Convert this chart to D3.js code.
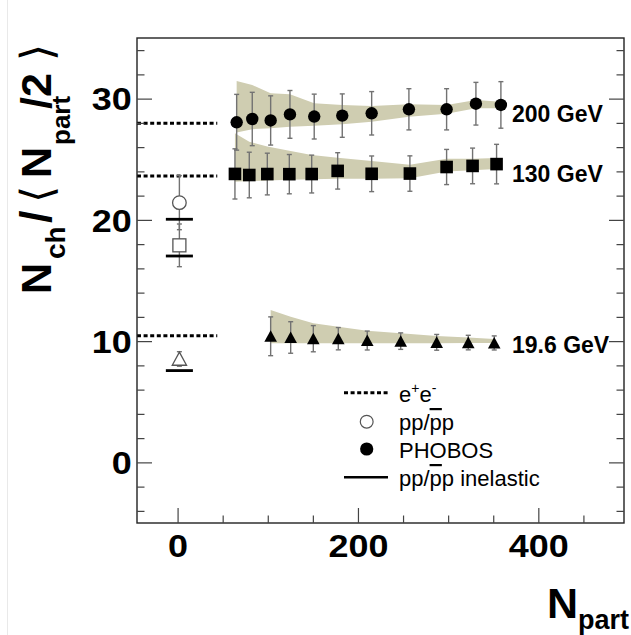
<!DOCTYPE html>
<html>
<head>
<meta charset="utf-8">
<script src="https://cdn.jsdelivr.net/npm/d3@7"></script>
<style>
  body { margin: 0; background: #fff; }
  text { font-family: "Liberation Sans", Arial, Helvetica, sans-serif; }
</style>
</head>
<body>
<svg id="chart" width="631" height="635"></svg>
<script>
// PHOBOS charged multiplicity per participant pair vs. Npart

// 200 GeV (filled circles)
const npart200 = [65.5, 82.8, 103.2, 124.6, 151.5, 182.6, 215.2, 256.5, 298.3, 330.8, 358.5];
const val200   = [28.05, 28.32, 28.2, 28.7, 28.52, 28.6, 28.79, 29.12, 29.12, 29.58, 29.48];
const err200   = [2.3, 2.2, 2.03, 1.97, 1.85, 1.79, 1.79, 1.7, 1.7, 1.76, 1.92];
const sysHi200 = [31.46, 31.13, 30.44, 30.36, 29.62, 29.48, 29.4, 29.53, 29.48, 29.89, 29.75];
const sysLo200 = [27.2, 27.48, 27.56, 27.69, 27.77, 27.88, 28.1, 28.5, 28.75, 29.2, 29.2];

// 130 GeV (filled squares)
const npart130 = [63.6, 79.5, 99.5, 123.9, 148.7, 177.5, 215.2, 257.6, 298.3, 327.1, 353.7];
const val130   = [23.79, 23.7, 23.78, 23.77, 23.78, 24.04, 23.8, 23.82, 24.36, 24.45, 24.6];
const err130   = [2.07, 1.88, 1.72, 1.62, 1.56, 1.5, 1.47, 1.46, 1.45, 1.47, 1.63];
const sysHi130 = [27.15, 26.45, 26.05, 25.7, 25.36, 25.13, 24.86, 24.55, 25.05, 25.05, 25.1];
const sysLo130 = [23.15, 23.2, 23.25, 23.3, 23.35, 23.4, 23.4, 23.43, 23.98, 24.1, 24.2];

// 19.6 GeV (filled triangles)
const npart19 = [103.2, 125.4, 150.5, 178.2, 210.3, 247.4, 287.3, 322.3, 351.1];
const val19   = [10.4, 10.3, 10.2, 10.2, 10.05, 10.0, 9.9, 9.88, 9.85];
const err19   = [1.6, 1.3, 1.08, 0.92, 0.78, 0.68, 0.65, 0.6, 0.58];
const sysHi19 = [12.57, 12.02, 11.47, 11.19, 10.86, 10.65, 10.42, 10.29, 10.18];
const sysLo19 = [9.82, 9.82, 9.82, 9.82, 9.82, 9.82, 9.82, 9.84, 9.85];

// e+e- reference levels (dotted), drawn over the Npart range below
const eeLevels = [27.97, 23.62, 10.45];
const eeRange = [-45, 44];

// pp / p-pbar at Npart = 2 (open markers) and inelastic pp values (thick bars)
const ppNpart = 2;
const ppVals  = [21.42, 17.9, 8.53];
const ppErr   = [2.23, 1.76, 0.6];
const ppShape = ["circle", "square", "triangle"];
const inelVals = [20.05, 17.02, 7.57];
const inelHalfWidth = 15;

// axes
const xDomain = [-45, 495];
const yDomain = [-5, 35];
const xMajor = [0, 200, 400];
const xMinor = [50, 100, 150, 250, 300, 350, 450];
const yMajor = [0, 10, 20, 30];
const yMinor = [-4, -2, 2, 4, 6, 8, 12, 14, 16, 18, 22, 24, 26, 28, 32, 34];

// energy labels, placed at the level they sit beside
const seriesLabels = [
  { text: "200 GeV", y: 28.8 },
  { text: "130 GeV", y: 23.85 },
  { text: "19.6 GeV", y: 9.7 }
];

const svg = d3.select("#chart");
const L = 137, R = 624, T = 38, B = 523;
const x = d3.scaleLinear().domain(xDomain).range([L, R]);
const y = d3.scaleLinear().domain(yDomain).range([B, T]);

// faint page edge line
svg.append("line").attr("x1", 7.5).attr("x2", 7.5).attr("y1", 0).attr("y2", 635)
  .attr("stroke", "#e9e9e9").attr("stroke-width", 1);

const bandColor = "#cfcdb1";
const errColor = "#727272";

function zip(n, v, e, hi, lo) {
  return n.map((d, i) => ({ n: d, v: v[i], e: e[i], hi: hi[i], lo: lo[i] }));
}
const s200 = zip(npart200, val200, err200, sysHi200, sysLo200);
const s130 = zip(npart130, val130, err130, sysHi130, sysLo130);
const s19  = zip(npart19, val19, err19, sysHi19, sysLo19);

// systematic bands
const area = d3.area().x(d => x(d.n)).y0(d => y(d.lo)).y1(d => y(d.hi));
[s200, s130, s19].forEach(s => {
  svg.append("path").attr("d", area(s)).attr("fill", bandColor);
});

// e+e- dotted lines
eeLevels.forEach(v => {
  svg.append("line")
    .attr("x1", x(eeRange[0])).attr("x2", x(eeRange[1]))
    .attr("y1", y(v)).attr("y2", y(v))
    .attr("stroke", "#000").attr("stroke-width", 3)
    .attr("stroke-dasharray", "4,2.6");
});

// error bars with small caps
function errorBars(data) {
  const g = svg.append("g").attr("stroke", errColor).attr("stroke-width", 1.4);
  data.forEach(d => {
    const cx = x(d.n), y1 = y(d.v + d.e), y2 = y(d.v - d.e);
    g.append("line").attr("x1", cx).attr("x2", cx).attr("y1", y1).attr("y2", y2);
    g.append("line").attr("x1", cx - 2.5).attr("x2", cx + 2.5).attr("y1", y1).attr("y2", y1);
    g.append("line").attr("x1", cx - 2.5).attr("x2", cx + 2.5).attr("y1", y2).attr("y2", y2);
  });
}
errorBars(s200); errorBars(s130); errorBars(s19);

const ppData = ppVals.map((v, i) => ({ n: ppNpart, v: v, e: ppErr[i], shape: ppShape[i] }));
errorBars(ppData);

// inelastic pp bars
inelVals.forEach(v => {
  svg.append("line")
    .attr("x1", x(ppNpart - inelHalfWidth)).attr("x2", x(ppNpart + inelHalfWidth))
    .attr("y1", y(v)).attr("y2", y(v))
    .attr("stroke", "#000").attr("stroke-width", 2.8);
});

function triPath(cx, cy, h) {
  return `M${cx},${cy - h}L${cx + h * 1.05},${cy + h * 0.93}L${cx - h * 1.05},${cy + h * 0.93}Z`;
}

// filled markers
svg.append("g").selectAll("circle").data(s200).join("circle")
  .attr("cx", d => x(d.n)).attr("cy", d => y(d.v)).attr("r", 6.2).attr("fill", "#000");
svg.append("g").selectAll("rect").data(s130).join("rect")
  .attr("x", d => x(d.n) - 6.3).attr("y", d => y(d.v) - 6.3)
  .attr("width", 12.6).attr("height", 12.6).attr("fill", "#000");
svg.append("g").selectAll("path").data(s19).join("path")
  .attr("d", d => triPath(x(d.n), y(d.v), 6)).attr("fill", "#000");

// open pp markers
const openG = svg.append("g").attr("fill", "#fff").attr("stroke", "#555").attr("stroke-width", 1.3);
ppData.forEach(d => {
  const cx = x(d.n), cy = y(d.v);
  if (d.shape === "circle") openG.append("circle").attr("cx", cx).attr("cy", cy).attr("r", 6.8);
  else if (d.shape === "square") openG.append("rect").attr("x", cx - 6.5).attr("y", cy - 6.5).attr("width", 13).attr("height", 13);
  else openG.append("path").attr("d", triPath(cx, cy, 6.8));
});

// frame
svg.append("rect").attr("x", L).attr("y", T).attr("width", R - L).attr("height", B - T)
  .attr("fill", "none").attr("stroke", "#222").attr("stroke-width", 1.4);

// ticks (inside the frame)
const tickStyle = g => g.call(s => s.select(".domain").remove())
  .call(s => s.selectAll(".tick line").attr("stroke", "#444").attr("stroke-width", 1.2));

svg.append("g").attr("transform", `translate(0,${B})`)
  .call(d3.axisBottom(x).tickValues(xMinor).tickSize(-7.5).tickFormat("")).call(tickStyle);
const xAx = svg.append("g").attr("transform", `translate(0,${B})`)
  .call(d3.axisBottom(x).tickValues(xMajor).tickSize(-15).tickPadding(0).tickFormat(d3.format("d")))
  .call(tickStyle);
xAx.selectAll(".tick text")
  .attr("y", 34).attr("dy", 0)
  .attr("transform", "scale(1.16,1)")
  .attr("fill", "#000").style("font-size", "31px").style("font-weight", "bold")
  .style("font-family", '"Liberation Sans", Arial, sans-serif');

svg.append("g").attr("transform", `translate(${L},0)`)
  .call(d3.axisLeft(y).tickValues(yMinor).tickSize(-7.5).tickFormat("")).call(tickStyle);
const yAx = svg.append("g").attr("transform", `translate(${L},0)`)
  .call(d3.axisLeft(y).tickValues(yMajor).tickSize(-15).tickFormat(d3.format("d")))
  .call(tickStyle);
yAx.selectAll(".tick text")
  .attr("x", -5.3 / 1.16).attr("dy", "0.36em")
  .attr("transform", "scale(1.16,1)")
  .attr("fill", "#000").style("font-size", "31px").style("font-weight", "bold")
  .style("font-family", '"Liberation Sans", Arial, sans-serif');

svg.append("g").attr("transform", `translate(${R},0)`)
  .call(d3.axisRight(y).tickValues(yMinor).tickSize(-7.5).tickFormat("")).call(tickStyle);
svg.append("g").attr("transform", `translate(${R},0)`)
  .call(d3.axisRight(y).tickValues(yMajor).tickSize(-15).tickFormat("")).call(tickStyle);

// series labels
seriesLabels.forEach(s => {
  svg.append("text").attr("x", 512).attr("y", y(s.y) + 8.5)
    .attr("font-size", 23).attr("font-weight", "bold").attr("fill", "#000").text(s.text);
});

// legend
const lg = svg.append("g");
const lx1 = 344, lx2 = 388, lcx = 366.7, ltx = 399;
lg.append("line").attr("x1", lx1).attr("x2", lx2).attr("y1", 392.7).attr("y2", 392.7)
  .attr("stroke", "#000").attr("stroke-width", 3).attr("stroke-dasharray", "4,2.6");
lg.append("circle").attr("cx", lcx).attr("cy", 421.7).attr("r", 6.4)
  .attr("fill", "#fff").attr("stroke", "#555").attr("stroke-width", 1.2);
lg.append("circle").attr("cx", lcx).attr("cy", 449).attr("r", 6.6).attr("fill", "#000");
lg.append("line").attr("x1", lx1).attr("x2", lx2).attr("y1", 477.3).attr("y2", 477.3)
  .attr("stroke", "#000").attr("stroke-width", 2.6);

const lt = (yy) => lg.append("text").attr("x", ltx).attr("y", yy).attr("font-size", 22).attr("fill", "#000");
const t1 = lt(401.5);
t1.append("tspan").text("e");
t1.append("tspan").attr("font-size", 14).attr("dy", -9).text("+");
t1.append("tspan").attr("dy", 9).text("e");
t1.append("tspan").attr("font-size", 14).attr("dy", -9).text("-");
const t2 = lt(430);
t2.append("tspan").text("pp/");
t2.append("tspan").style("text-decoration", "overline").text("p");
t2.append("tspan").text("p");
lt(458).text("PHOBOS");
const t4 = lt(486);
t4.append("tspan").text("pp/");
t4.append("tspan").style("text-decoration", "overline").text("p");
t4.append("tspan").text("p inelastic");

// x axis title
const xt = svg.append("text").attr("x", 629).attr("y", 618).attr("text-anchor", "end")
  .attr("font-weight", "bold").attr("fill", "#000");
xt.append("tspan").attr("font-size", 43).text("N");
xt.append("tspan").attr("font-size", 27).attr("dy", 11).text("part");

// y axis title
const yt = svg.append("text").attr("transform", "translate(51,293) rotate(-90)")
  .attr("font-weight", "bold").attr("fill", "#000").attr("font-size", 43);
yt.append("tspan").attr("x", -1).text("N");
yt.append("tspan").attr("x", 34).attr("font-size", 28).attr("dy", 14).text("ch");
yt.append("tspan").attr("x", 70).attr("dy", -14).attr("font-size", 45).text("/");
yt.append("tspan").attr("x", 90).attr("font-family", "DejaVu Sans").attr("font-weight", 200)
  .attr("font-size", 44).attr("dy", 1).text("⟨");
yt.append("tspan").attr("x", 115).attr("dy", -1).text("N");
yt.append("tspan").attr("x", 148).attr("font-size", 26).attr("dy", 19).text("part");
yt.append("tspan").attr("x", 184).attr("dy", -19).text("/2");
yt.append("tspan").attr("x", 232).attr("font-family", "DejaVu Sans").attr("font-weight", 200)
  .attr("font-size", 44).attr("dy", 1).text("⟩");
</script>
</body>
</html>
